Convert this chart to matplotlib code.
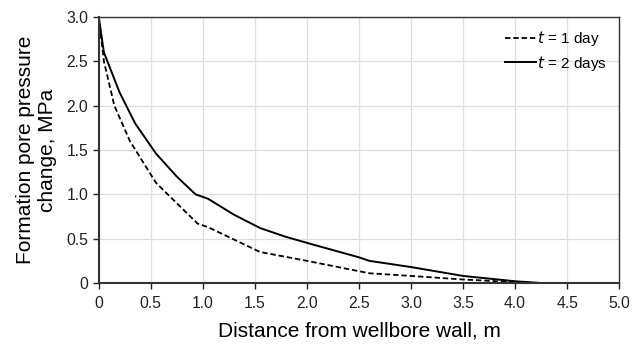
import matplotlib
matplotlib.use("Agg")
import matplotlib.pyplot as plt

plt.rcParams['font.family'] = ['Liberation Sans', 'DejaVu Sans']

# Data
x_day1 = [0, 0.05, 0.15, 0.3, 0.55, 0.75, 0.95, 1.05, 1.3, 1.55, 2.0, 2.3, 2.6, 3.0, 3.5, 4.0, 4.25, 5.0]
p_day1 = [3.0, 2.5, 2.0, 1.6, 1.13, 0.9, 0.67, 0.63, 0.49, 0.35, 0.25, 0.18, 0.11, 0.08, 0.04, 0.01, 0.0, 0.0]

x_day2 = [0, 0.05, 0.1, 0.2, 0.35, 0.55, 0.75, 0.93, 1.05, 1.3, 1.55, 1.8, 2.1, 2.5, 2.6, 3.0, 3.5, 4.0, 4.25, 5.0]
p_day2 = [3.0, 2.6, 2.45, 2.15, 1.8, 1.46, 1.2, 1.0, 0.95, 0.77, 0.62, 0.52, 0.42, 0.29, 0.25, 0.18, 0.08, 0.02, 0.0, 0.0]

xticks = [0, 0.5, 1.0, 1.5, 2.0, 2.5, 3.0, 3.5, 4.0, 4.5, 5.0]
xtick_labels = ["0", "0.5", "1.0", "1.5", "2.0", "2.5", "3.0", "3.5", "4.0", "4.5", "5.0"]
yticks = [0, 0.5, 1.0, 1.5, 2.0, 2.5, 3.0]
ytick_labels = ["0", "0.5", "1.0", "1.5", "2.0", "2.5", "3.0"]

fig = plt.figure(figsize=(6.41, 3.46), dpi=100)
ax = fig.add_axes([0.154, 0.182, 0.812, 0.769])

ax.plot(x_day1, p_day1, color='black', linestyle=(0, (3, 1.6)), linewidth=1.3, label=r"$t$ = 1 day")
ax.plot(x_day2, p_day2, color='black', linestyle='-', linewidth=1.4, label=r"$t$ = 2 days")

ax.set_xlim(0, 5)
ax.set_ylim(0, 3)
ax.set_xticks(xticks)
ax.set_xticklabels(xtick_labels)
ax.set_yticks(yticks)
ax.set_yticklabels(ytick_labels)
ax.tick_params(labelsize=11.3, colors='#222222', direction='out', length=4, width=1)
ax.tick_params(axis='x', pad=5)
ax.grid(True, color='#dddddd', linewidth=0.9)
ax.set_axisbelow(True)
for s in ax.spines.values():
    s.set_color('#333333')
    s.set_linewidth(1.0)
ax.spines['left'].set_linewidth(1.5)
ax.spines['bottom'].set_linewidth(1.5)

ax.set_xlabel("Distance from wellbore wall, m", fontsize=15, labelpad=8)
ax.set_ylabel("Formation pore pressure\nchange, MPa", fontsize=15, labelpad=7, linespacing=1.15)

leg = ax.legend(loc='upper right', frameon=False, fontsize=11, handlelength=2.0,
                handletextpad=0.1, labelspacing=0.35, borderaxespad=0.4)

fig.savefig("out.png", dpi=100)
